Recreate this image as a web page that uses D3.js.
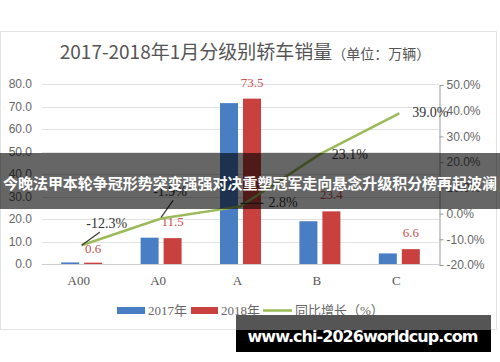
<!DOCTYPE html>
<html lang="zh">
<head>
<meta charset="UTF-8">
<title>2017-2018年1月分级别轿车销量</title>
<script src="https://d3js.org/d3.v7.min.js"></script>
<style>
  body { margin: 0; background: #fff; }
  svg { display: block; }
</style>
</head>
<body>
<div id="chart"></div>
<script>
// data
var categories = ["A00", "A0", "A", "B", "C"];
var sales2017 = [0.7, 11.7, 71.5, 19.0, 4.7];
var sales2018 = [0.6, 11.5, 73.5, 23.4, 6.6];
var growth = [-12.3, -1.9, 2.8, 23.1, 39.0];
var leftTicks = [0, 10, 20, 30, 40, 50, 60, 70, 80];
var rightTicks = [-20, -10, 0, 10, 20, 30, 40, 50];

var width = 500, height = 362;
var blue = "#4a7ec4", red = "#c8413f", green = "#9bbb59";

var svg = d3.select("#chart").append("svg")
    .attr("width", width)
    .attr("height", height);

// frame
svg.append("rect")
    .attr("x", 0.5).attr("y", 31.5)
    .attr("width", 496).attr("height", 298)
    .attr("fill", "#fff")
    .attr("stroke", "#e3e3e3");

// title
var title = svg.append("text")
    .attr("x", 245).attr("y", 59)
    .attr("text-anchor", "middle")
    .attr("fill", "#555")
    .style("font-family", "'Noto Sans CJK SC', sans-serif");
title.append("tspan").attr("font-size", 19).text("2017-2018年1月分级别轿车销量");
title.append("tspan").attr("font-size", 14).text("（单位：万辆）");

var x = d3.scaleBand().domain(categories).range([42, 439]);
var yL = d3.scaleLinear().domain([0, 80]).range([264, 84]);
var yR = d3.scaleLinear().domain([-20, 50]).range([265, 85]);

// gridlines
svg.append("g").selectAll("line")
    .data(leftTicks)
    .enter().append("line")
    .attr("x1", 42).attr("x2", 439)
    .attr("y1", function(d) { return Math.round(yL(d)) + 0.5; })
    .attr("y2", function(d) { return Math.round(yL(d)) + 0.5; })
    .attr("stroke", function(d) { return d == 0 ? "#cfcfcf" : "#e2e2e2"; });

// left tick labels
svg.append("g").selectAll("text")
    .data(leftTicks)
    .enter().append("text")
    .attr("x", 32)
    .attr("y", function(d) { return yL(d) + 4; })
    .attr("text-anchor", "end")
    .attr("font-size", 12)
    .attr("fill", "#666")
    .style("font-family", "'Liberation Sans', sans-serif")
    .text(function(d) { return d.toFixed(1); });

// right axis
var rAxis = d3.axisRight(yR)
    .tickValues(rightTicks)
    .tickSize(4)
    .tickFormat(function(d) { return d.toFixed(1) + "%"; });
var rg = svg.append("g")
    .attr("transform", "translate(439.5,0)")
    .call(rAxis);
rg.select(".domain").attr("stroke", "#999");
rg.selectAll(".tick line").attr("stroke", "#999");
rg.selectAll(".tick text")
    .attr("font-size", 12)
    .attr("fill", "#666")
    .style("font-family", "'Liberation Sans', sans-serif");

// bars
var bw = 18, gap = 5;
var cx = function(i) { return x(categories[i]) + x.bandwidth() / 2; };

svg.append("g").selectAll("rect")
    .data(sales2017)
    .enter().append("rect")
    .attr("x", function(d, i) { return cx(i) - gap / 2 - bw; })
    .attr("y", function(d) { return yL(d); })
    .attr("width", bw)
    .attr("height", function(d) { return yL(0) - yL(d); })
    .attr("fill", blue);

svg.append("g").selectAll("rect")
    .data(sales2018)
    .enter().append("rect")
    .attr("x", function(d, i) { return cx(i) + gap / 2; })
    .attr("y", function(d) { return yL(d); })
    .attr("width", bw)
    .attr("height", function(d) { return yL(0) - yL(d); })
    .attr("fill", red);

// red value labels
svg.append("g").selectAll("text")
    .data(sales2018)
    .enter().append("text")
    .attr("x", function(d, i) { return cx(i) + gap / 2 + bw / 2; })
    .attr("y", function(d, i) { return i == 0 ? 253 : yL(d) - 12; })
    .attr("text-anchor", "middle")
    .attr("font-size", 13)
    .attr("fill", "#c8504d")
    .style("font-family", "'Liberation Serif', serif")
    .text(function(d) { return d.toFixed(1); });

// growth line
var line = d3.line()
    .x(function(d, i) { return cx(i); })
    .y(function(d) { return yR(d); });

svg.append("path")
    .datum(growth)
    .attr("d", line)
    .attr("fill", "none")
    .attr("stroke", green)
    .attr("stroke-width", 2.5);

// growth labels with leader lines (offset from the point, anchor)
var labelOffsets = [[25, -17, "middle"], [9, -22, "middle"], [28, 1, "start"], [30, 5, "middle"], [13, 4, "start"]];
var gl = svg.append("g")
    .style("font-family", "'Liberation Serif', serif")
    .attr("font-size", 14)
    .attr("fill", "#333");
growth.forEach(function(d, i) {
    var px = cx(i), py = yR(d);
    if (i == 0) {
        gl.append("line").attr("x1", px).attr("y1", py).attr("x2", px + 18).attr("y2", py - 13)
            .attr("stroke", "#333").attr("stroke-width", 1.2);
    } else if (i == 1) {
        gl.append("line").attr("x1", px).attr("y1", py - 1).attr("x2", px + 12).attr("y2", py - 18)
            .attr("stroke", "#333").attr("stroke-width", 1.2);
    } else if (i == 2) {
        gl.append("line").attr("x1", px).attr("y1", py - 3).attr("x2", px + 23).attr("y2", py - 3)
            .attr("stroke", "#333").attr("stroke-width", 1.2);
    }
    gl.append("text")
        .attr("x", px + labelOffsets[i][0])
        .attr("y", py + labelOffsets[i][1])
        .attr("text-anchor", labelOffsets[i][2])
        .text(d.toFixed(1) + "%");
});

// legend
var lg = svg.append("g")
    .attr("font-size", 13)
    .attr("fill", "#666")
    .style("font-family", "'Liberation Serif', 'Noto Sans CJK SC', serif");
lg.append("rect").attr("x", 117).attr("y", 307).attr("width", 28).attr("height", 7).attr("fill", blue);
lg.append("text").attr("x", 148).attr("y", 315).text("2017年");
lg.append("rect").attr("x", 191).attr("y", 307).attr("width", 27).attr("height", 7).attr("fill", red);
lg.append("text").attr("x", 221).attr("y", 315).text("2018年");
lg.append("line").attr("x1", 263).attr("x2", 292).attr("y1", 310.5).attr("y2", 310.5)
    .attr("stroke", green).attr("stroke-width", 2.5);
lg.append("text").attr("x", 295).attr("y", 315).text("同比增长（%）");

// category labels
svg.append("g").selectAll("text")
    .data(categories)
    .enter().append("text")
    .attr("x", function(d, i) { return cx(i) - 3; })
    .attr("y", 285)
    .attr("text-anchor", "middle")
    .attr("font-size", 13)
    .attr("fill", "#555")
    .style("font-family", "'Liberation Serif', serif")
    .text(function(d) { return d; });

// overlay banner
svg.append("rect")
    .attr("x", 0).attr("y", 153)
    .attr("width", 500).attr("height", 56)
    .attr("fill", "rgba(0,0,0,0.6)");
svg.append("text")
    .attr("x", 250).attr("y", 189)
    .attr("text-anchor", "middle")
    .attr("font-size", 15)
    .attr("font-weight", "bold")
    .attr("fill", "#fff")
    .style("font-family", "'Noto Sans CJK SC', sans-serif")
    .attr("textLength", 494)
    .text("今晚法甲本轮争冠形势突变强强对决重塑冠军走向悬念升级积分榜再起波澜");

// watermark
svg.append("rect")
    .attr("x", 236).attr("y", 315)
    .attr("width", 255).attr("height", 37)
    .attr("fill", "#000");
svg.append("rect")
    .attr("x", 236).attr("y", 315)
    .attr("width", 255).attr("height", 15)
    .attr("fill", "#555");
svg.append("text")
    .attr("x", 363).attr("y", 342)
    .attr("text-anchor", "middle")
    .attr("font-size", 16)
    .attr("font-weight", "bold")
    .attr("fill", "#fff")
    .style("font-family", "'DejaVu Sans', sans-serif")
    .attr("textLength", 231)
    .text("www.chi-2026worldcup.com");
</script>
</body>
</html>
